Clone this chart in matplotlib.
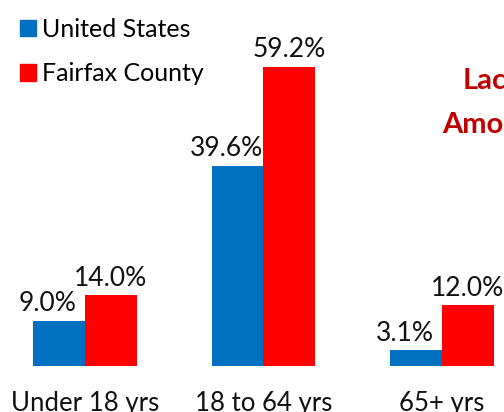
import matplotlib.pyplot as plt
from matplotlib.patches import Patch
import numpy as np

# age groups and share of population (%)
groups = ['Under 18 yrs', '18 to 64 yrs', '65+ yrs']
us_vals = [9.0, 39.6, 3.1]
fairfax_vals = [14.0, 59.2, 12.0]
series_names = ['United States', 'Fairfax County']

blue = '#0070C0'
red = '#FF0000'
dark_red = '#C00000'

plt.rcParams['font.family'] = ['Lato', 'DejaVu Sans']

fig = plt.figure(figsize=(5.04, 4.12), dpi=100)
ax = fig.add_axes([0, 46 / 412, 1, 366 / 412])

x = np.arange(len(groups))
w = 0.291

bars_us = ax.bar(x - w / 2, us_vals, w, color=blue)
bars_ff = ax.bar(x + w / 2, fairfax_vals, w, color=red)

# value labels; blue ones nudged left like the original
for b, v in zip(bars_us, us_vals):
    ax.annotate(f'{v:.1f}%', (b.get_x() + b.get_width() / 2, v),
                xytext=(-8, 7), textcoords='offset points',
                ha='center', va='baseline', fontsize=19, color='#111111')
for b, v in zip(bars_ff, fairfax_vals):
    ax.annotate(f'{v:.1f}%', (b.get_x() + b.get_width() / 2, v),
                xytext=(0, 7), textcoords='offset points',
                ha='center', va='baseline', fontsize=19, color='#111111')

ax.set_xlim(-85 / 178.5, (504 - 85) / 178.5)
ax.set_ylim(0, 366 / 5.05)
ax.set_xticks(x)
ax.set_xticklabels(groups, fontsize=18.5, color='#111111')
ax.tick_params(axis='x', length=0, pad=18)
ax.set_yticks([])
for s in ax.spines.values():
    s.set_visible(False)

handles = [Patch(color=blue), Patch(color=red)]
fig.legend(handles, series_names, loc='upper left', bbox_to_anchor=(0.01, 0.993),
           frameon=False, fontsize=18, handlelength=0.64, handleheight=0.64,
           handletextpad=0.25, labelspacing=0.85, borderaxespad=0.2)

# title text cut off at the right edge in the original
fig.text(463 / 504, 1 - 89 / 412, 'Lack', fontsize=21, fontweight='bold',
         color=dark_red, ha='left', va='baseline')
fig.text(442 / 504, 1 - 133 / 412, 'Among', fontsize=21, fontweight='bold',
         color=dark_red, ha='left', va='baseline')

fig.savefig('out.png', dpi=100)
